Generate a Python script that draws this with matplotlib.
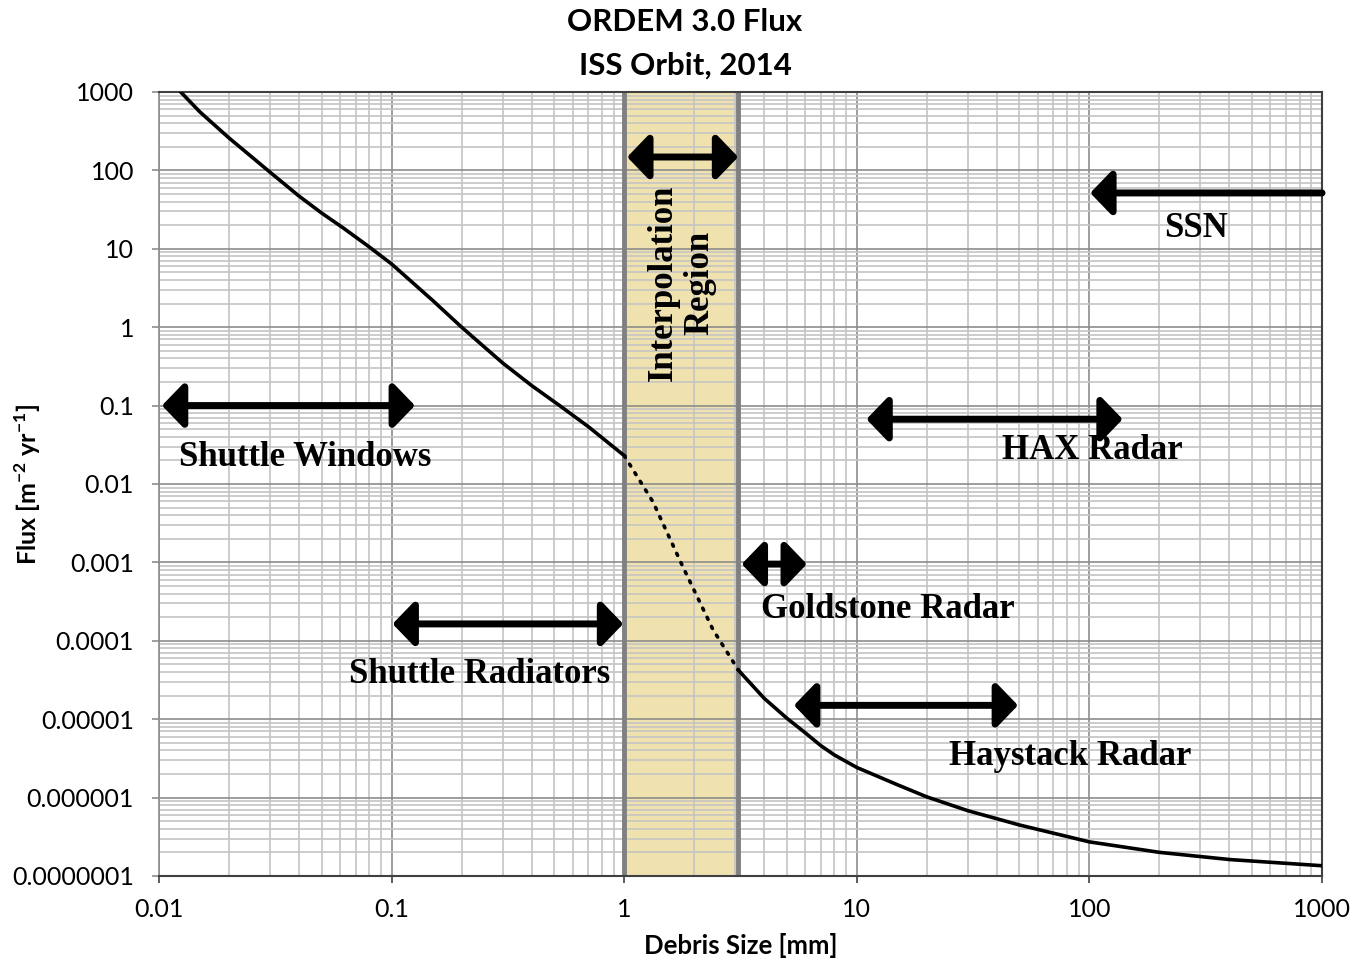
import numpy as np
import matplotlib
matplotlib.use("Agg")
import matplotlib.pyplot as plt
from matplotlib.ticker import LogLocator, NullFormatter

# ORDEM 3.0 flux curve, ISS orbit 2014
size_lo = [0.0124, 0.015, 0.02, 0.03, 0.04, 0.05, 0.062, 0.079, 0.1, 0.15, 0.2, 0.3, 0.4, 0.53, 0.7, 1.0]
flux_lo = [1000, 556, 259, 95, 47, 28.6, 18.4, 10.9, 6.4, 2.2, 1.0, 0.35, 0.18, 0.099, 0.054, 0.023]

size_mid = [1.0, 1.33, 1.79, 2.41, 3.1]
flux_mid = [0.023, 0.0059, 8.7e-4, 1.38e-4, 4.2e-5]

size_hi = [3.1, 4, 5, 6, 7, 8, 10, 15, 20, 30, 50, 100, 200, 400, 1000]
flux_hi = [4.2e-5, 1.84e-5, 1.03e-5, 6.7e-6, 4.6e-6, 3.5e-6, 2.42e-6, 1.45e-6, 1.02e-6,
           6.8e-7, 4.47e-7, 2.72e-7, 2.0e-7, 1.62e-7, 1.35e-7]

interp_region = [1.0, 3.1]

# measurement ranges: (label, x start, x end, arrow y, label x, label y)
ranges = [
    ("Shuttle Windows", 0.0103, 0.126, 0.1, 0.0425, 0.022),
    ("Shuttle Radiators", 0.101, 0.99, 1.64e-4, 0.24, 3.7e-5),
    ("Goldstone Radar", 3.2, 6.1, 9.5e-4, 13.6, 2.5e-4),
    ("Haystack Radar", 5.37, 49.3, 1.5e-5, 82.6, 3.3e-6),
    ("HAX Radar", 11, 139, 0.067, 103, 0.027),
]
interp_arrow = [1.03, 3.09, 148]
ssn_arrow = [100.8, 1000, 51.5]

xticks = [0.01, 0.1, 1, 10, 100, 1000]
xlabels = ["0.01", "0.1", "1", "10", "100", "1000"]
yticks = [1e3, 1e2, 1e1, 1, 1e-1, 1e-2, 1e-3, 1e-4, 1e-5, 1e-6, 1e-7]
ylabels = ["1000", "100", "10", "1", "0.1", "0.01", "0.001", "0.0001",
           "0.00001", "0.000001", "0.0000001"]

plt.rcParams['font.family'] = ['Lato', 'DejaVu Sans']
plt.rcParams['mathtext.fontset'] = 'custom'
plt.rcParams['mathtext.rm'] = 'Lato'
plt.rcParams['mathtext.bf'] = 'Lato:bold'

fig = plt.figure(figsize=(13.54, 9.61), dpi=100)
ax = fig.add_axes([0.1174, 0.0885, 0.859, 0.8158])
ax.set_xscale('log')
ax.set_yscale('log')
ax.set_xlim(0.01, 1000)
ax.set_ylim(1e-7, 1000)

ax.set_xticks(xticks)
ax.set_xticklabels(xlabels)
ax.set_yticks(yticks)
ax.set_yticklabels(ylabels)
ax.xaxis.set_minor_locator(LogLocator(base=10, subs=np.arange(2, 10), numticks=100))
ax.yaxis.set_minor_locator(LogLocator(base=10, subs=np.arange(2, 10), numticks=100))
ax.xaxis.set_minor_formatter(NullFormatter())
ax.yaxis.set_minor_formatter(NullFormatter())

# grid
ax.grid(which='major', color='#8c8c8c', lw=1.2, zorder=0)
ax.grid(which='minor', color='#c4c4c4', lw=1.2, zorder=0)
ax.set_axisbelow(True)

# interpolation band
ax.axvspan(interp_region[0], interp_region[1], color='#efe2af', zorder=0.5, lw=0)
for xv in interp_region:
    ax.axvline(xv, color='#808080', lw=3.5, zorder=1.5)

# curve
ax.plot(size_lo, flux_lo, color='black', lw=2.6, zorder=3, solid_joinstyle='round')
ax.plot(size_mid, flux_mid, color='black', lw=2.6, zorder=3,
        linestyle=(0, (0.6, 2.2)), dash_capstyle='round')
ax.plot(size_hi, flux_hi, color='black', lw=2.6, zorder=3, solid_joinstyle='round')

serif = dict(family='Liberation Serif', fontweight='bold', fontsize=25)
arrow2 = dict(arrowstyle='<|-|>,head_length=1.3,head_width=1.35', lw=5,
              color='black', shrinkA=0, shrinkB=0)
arrow1 = dict(arrowstyle='-|>,head_length=1.3,head_width=1.35', lw=5,
              color='black', shrinkA=0, shrinkB=0)

for label, x0, x1, ya, tx, ty in ranges:
    ax.annotate('', xy=(x1, ya), xytext=(x0, ya), arrowprops=arrow2, zorder=4)
    ax.text(tx, ty, label, ha='center', va='center', zorder=5, **serif)

ax.annotate('', xy=(interp_arrow[1], interp_arrow[2]), xytext=(interp_arrow[0], interp_arrow[2]),
            arrowprops=arrow2, zorder=4)
ax.text(1.76, 3.7, "Interpolation\nRegion", rotation=90, ha='center', va='center',
        linespacing=1.15, zorder=5, **serif)

ax.annotate('', xy=(ssn_arrow[0], ssn_arrow[2]), xytext=(ssn_arrow[1], ssn_arrow[2]),
            arrowprops=arrow1, zorder=4)
ax.text(287, 18.4, "SSN", ha='center', va='center', zorder=5, **serif)

# axes and ticks
ax.tick_params(which='minor', length=0)
ax.tick_params(axis='x', which='major', length=5, width=1.2, color='#404040',
               labelsize=18, pad=11)
ax.tick_params(axis='y', which='major', length=5, width=1.2, color='#8c8c8c',
               labelsize=18, pad=13)
for side in ['bottom', 'top', 'right']:
    ax.spines[side].set_color('#404040')
    ax.spines[side].set_linewidth(1.5)
ax.spines['left'].set_color('#8c8c8c')
ax.spines['left'].set_linewidth(1.2)

ax.set_xlabel("Debris Size [mm]", fontsize=18.5, fontweight='bold', va='center')
ax.xaxis.set_label_coords(0.5, -0.0893)
ax.set_ylabel(r"Flux [m$^{\mathbf{-2}}$ yr$^{\mathbf{-1}}$]", fontsize=18,
              fontweight='bold', va='center')
ax.yaxis.set_label_coords(-0.1126, 0.5)

fig.text(0.506, 1 - 22 / 961, "ORDEM 3.0 Flux", ha='center', va='center',
         fontsize=22.5, fontweight='bold')
fig.text(0.506, 1 - 66 / 961, "ISS Orbit, 2014", ha='center', va='center',
         fontsize=22.5, fontweight='bold')

fig.savefig("out.png", dpi=100)
